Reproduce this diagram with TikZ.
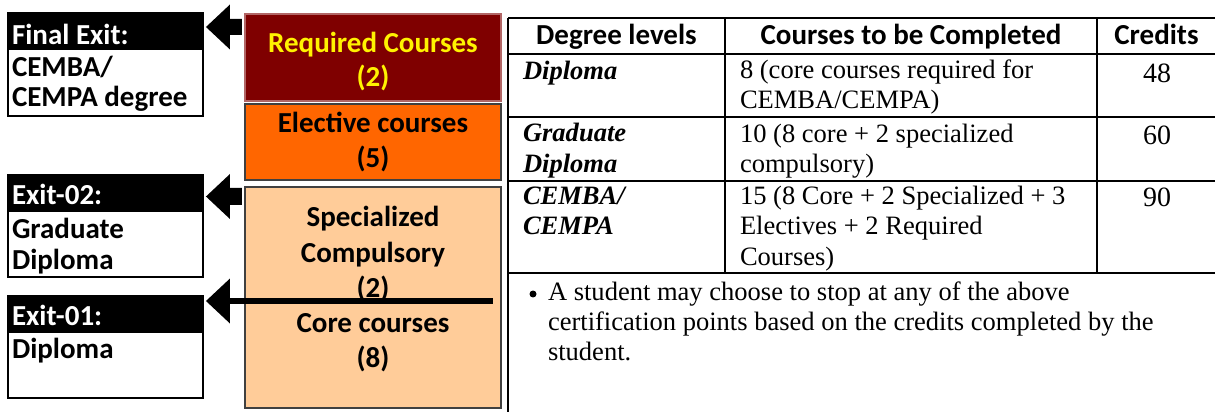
\documentclass[tikz,border=0pt]{standalone}
\usepackage{fontspec}
\setmainfont{Liberation Serif}
\newfontfamily\calibri{Carlito}
\definecolor{reqred}{HTML}{7F0000}
\definecolor{elecorange}{HTML}{FF6600}
\definecolor{corepeach}{HTML}{FFCC99}
\newcommand{\boxfont}{\calibri\bfseries\fontsize{16.5pt}{19pt}\selectfont}
\newcommand{\tabfont}{\fontsize{15.1pt}{17pt}\selectfont}
\newcommand{\credfont}{\fontsize{15.9pt}{18pt}\selectfont}

\begin{document}
\begin{tikzpicture}[x=0.02cm, y=-0.02cm]
	\tikzstyle{every node} = [inner sep=0pt, outer sep=0pt]
	\tikzstyle{exitbox} = [draw=black, line width=0.85pt, minimum width=3.9cm]
	\tikzstyle{exitband} = [fill=black, minimum width=3.9cm, minimum height=0.74cm]
	\tikzstyle{coursebox} = [draw=black!75, line width=0.85pt, minimum width=5.12cm]
	\tikzstyle{boxtext} = [font=\boxfont, anchor=base]
	\tikzstyle{exittext} = [font=\boxfont, anchor=base west]
	\tikzstyle{tabtext} = [font=\tabfont, anchor=base west]
	\tikzstyle{credtext} = [font=\credfont, anchor=base]
	\tikzstyle{tabline} = [line width=1.1pt]
	\tikzstyle{exitfill} = [fill=black]
	\useasboundingbox (0,0) rectangle (1215,412);

	% exit boxes on the left
	\node[exitbox, minimum height=2.06cm] (final) at (105.5,64.5) {};
	\node[exitband] (finalband) at (105.5,31.5) {};
	\node[exitbox, minimum height=2.04cm] (exitb) at (105.5,226) {};
	\node[exitband] (exitbband) at (105.5,193.5) {};
	\node[exitbox, minimum height=2.04cm] (exita) at (105.5,347) {};
	\node[exitband] (exitaband) at (105.5,314.5) {};

	\node[exittext, text=white] (fe) at (12,45) {Final Exit:};
	\node[exittext] (fe1) at (12,77) {CEMBA/};
	\node[exittext] (fe2) at (12,107) {CEMPA degree};
	\node[exittext, text=white] (eb) at (12,205) {Exit-02:};
	\node[exittext] (eb1) at (12,238) {Graduate};
	\node[exittext] (eb2) at (12,270) {Diploma};
	\node[exittext, text=white] (ea) at (12,325) {Exit-01:};
	\node[exittext] (ea1) at (12,358) {Diploma};

	% course blocks
	\node[coursebox, draw=reqred!60, fill=reqred, minimum height=1.74cm] (req) at (373,57.5) {};
	\node[coursebox, fill=elecorange, minimum height=1.52cm] (elec) at (373,142) {};
	\node[coursebox, fill=corepeach, minimum height=4.42cm] (spec) at (373,297.5) {};

	\node[boxtext, text=yellow] (req1) at (373,53) {Required Courses};
	\node[boxtext, text=yellow] (req2) at (373,87) {(2)};
	\node[boxtext] (elec1) at (373,133) {Elective courses};
	\node[boxtext] (elec2) at (373,168) {(5)};
	\node[boxtext] (spec1) at (373,227) {Specialized};
	\node[boxtext] (spec2) at (373,262) {Compulsory};
	\node[boxtext] (spec3) at (373,297) {(2)};
	\node[boxtext] (core1) at (373,333) {Core courses};
	\node[boxtext] (core2) at (373,367) {(8)};

	% exit arrows
	\coordinate (fa) at (0,27);
	\coordinate (ba) at (0,196.5);
	\coordinate (aa) at (0,301);
	\fill[exitfill] ([xshift=0.06cm]final.east |- fa) -- ++(24,-22.5) -- ++(0,14.5) -- ++(12,0)
		-- ++(0,16) -- ++(-12,0) -- ++(0,14.5) -- cycle;
	\fill[exitfill] ([xshift=0.06cm]exitb.east |- ba) -- ++(24,-22.5) -- ++(0,14) -- ++(12,0)
		-- ++(0,17) -- ++(-12,0) -- ++(0,14) -- cycle;
	\fill[exitfill] ([xshift=0.06cm]exita.east |- aa) -- ++(24,-22.5) -- ++(0,45) -- cycle;
	\draw[line width=3.2pt] ([xshift=-0.16cm]spec.east |- aa) -- ([xshift=0.52cm]exita.east |- aa);

	% table rules
	\foreach \y in {18,54,117,181,273}
		\draw[tabline] (508,\y) -- (1215,\y);
	\draw[tabline] (508,18) -- (508,412);
	\foreach \x in {725,1097}
		\draw[tabline] (\x,18) -- (\x,273);

	% table header
	\node[boxtext] (hdeg) at (616.5,45) {Degree levels};
	\node[boxtext] (hcou) at (911,45) {Courses to be Completed};
	\node[boxtext] (hcre) at (1156.5,45) {Credits};

	% rows
	\node[tabtext] (d1) at (523,80) {\textbf{\textit{Diploma}}};
	\node[tabtext] (c1a) at (740,79) {8 (core courses required for};
	\node[tabtext] (c1b) at (740,109) {CEMBA/CEMPA)};
	\node[credtext] (k1) at (1157,83) {48};

	\node[tabtext] (d2a) at (523,142) {\textbf{\textit{Graduate}}};
	\node[tabtext] (d2b) at (523,173) {\textbf{\textit{Diploma}}};
	\node[tabtext] (c2a) at (740,143) {10 (8 core + 2 specialized};
	\node[tabtext] (c2b) at (740,173) {compulsory)};
	\node[credtext] (k2) at (1157,145) {60};

	\node[tabtext] (d3a) at (523,205) {\textbf{\textit{CEMBA/}}};
	\node[tabtext] (d3b) at (523,235) {\textbf{\textit{CEMPA}}};
	\node[tabtext] (c3a) at (740,205) {15 (8 Core + 2 Specialized + 3};
	\node[tabtext] (c3b) at (740,235) {Electives + 2 Required};
	\node[tabtext] (c3c) at (740,265) {Courses)};
	\node[credtext] (k3) at (1157,207) {90};

	% note
	\node[circle, fill=black, minimum size=0.14cm] (bul) at (533,294) {};
	\node[tabtext] (n1) at (548,300) {A student may choose to stop at any of the above};
	\node[tabtext] (n2) at (548,330) {certification points based on the credits completed by the};
	\node[tabtext] (n3) at (548,360) {student.};
\end{tikzpicture}
\end{document}
